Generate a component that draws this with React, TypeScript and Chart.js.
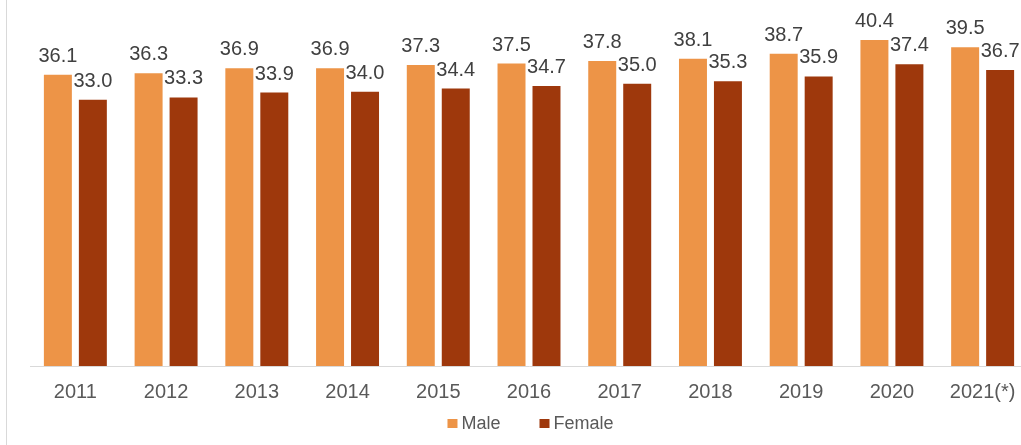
import React, { useEffect, useRef } from "react";
import { Chart, registerables } from "chart.js";

Chart.register(...registerables);

const categories = ["2011", "2012", "2013", "2014", "2015", "2016", "2017", "2018", "2019", "2020", "2021(*)"];
const maleValues = [36.1, 36.3, 36.9, 36.9, 37.3, 37.5, 37.8, 38.1, 38.7, 40.4, 39.5];
const femaleValues = [33.0, 33.3, 33.9, 34.0, 34.4, 34.7, 35.0, 35.3, 35.9, 37.4, 36.7];
const seriesNames = ["Male", "Female"];
const seriesColors = ["#ED9447", "#9E380C"];

const FONT = "'Liberation Sans', Arial, sans-serif";

const valueLabels = {
  id: "valueLabels",
  afterDatasetsDraw(chart: any) {
    const ctx = chart.ctx;
    ctx.save();
    ctx.font = `20px ${FONT}`;
    ctx.fillStyle = "#404040";
    ctx.textAlign = "center";
    ctx.textBaseline = "alphabetic";
    chart.data.datasets.forEach((ds: any, di: number) => {
      const meta = chart.getDatasetMeta(di);
      meta.data.forEach((el: any, i: number) => {
        const v = ds.data[i];
        ctx.fillText(Number(v).toFixed(1), el.x, el.y - 13);
      });
    });
    ctx.restore();
  },
};

const bottomLegend = {
  id: "bottomLegend",
  afterDraw(chart: any) {
    const ctx = chart.ctx;
    ctx.save();
    ctx.font = `18px ${FONT}`;
    ctx.textBaseline = "middle";
    ctx.textAlign = "left";
    const box = 10;
    const gapText = 4;
    const gapItem = 39;
    const items = chart.data.datasets.map((ds: any) => ({
      text: ds.label,
      color: ds.backgroundColor,
      w: box + gapText + ctx.measureText(ds.label).width,
    }));
    const total = items.reduce((s: number, it: any) => s + it.w, 0) + gapItem * (items.length - 1);
    const cx = (chart.chartArea.left + chart.chartArea.right) / 2 + 1.5;
    const cy = 424;
    let x = cx - total / 2;
    items.forEach((it: any) => {
      ctx.fillStyle = it.color;
      ctx.fillRect(x, cy - 5, box, box - 1);
      ctx.fillStyle = "#595959";
      ctx.fillText(it.text, x + box + gapText, cy);
      x += it.w + gapItem;
    });
    ctx.restore();
  },
};

export default function App() {
  const ref = useRef<HTMLCanvasElement>(null);
  useEffect(() => {
    document.body.style.margin = "0";
    const chart = new Chart(ref.current!, {
      type: "bar",
      data: {
        labels: categories,
        datasets: [
          { label: seriesNames[0], data: maleValues, backgroundColor: seriesColors[0] },
          { label: seriesNames[1], data: femaleValues, backgroundColor: seriesColors[1] },
        ],
      },
      options: {
        responsive: false,
        animation: false,
        devicePixelRatio: 1,
        datasets: { bar: { categoryPercentage: 0.771, barPercentage: 0.8 } },
        layout: { padding: { left: 30, right: 12, top: 3, bottom: 27 } },
        scales: {
          x: {
            grid: { display: false, drawTicks: false },
            border: { display: true, color: "#D9D9D9", width: 1 },
            ticks: { color: "#595959", font: { family: FONT, size: 20 }, padding: 14 },
          },
          y: { display: false, min: 0, max: 45 },
        },
        plugins: {
          legend: { display: false },
          tooltip: { enabled: false },
        },
      },
      plugins: [valueLabels, bottomLegend],
    });
    return () => chart.destroy();
  }, []);
  return (
    <div style={{ position: "relative", width: 1021, height: 445, overflow: "hidden", background: "#fff" }}>
      <div style={{ position: "absolute", left: 6, top: 0, width: 1, height: 445, background: "#D9D9D9" }} />
      <canvas ref={ref} width={1040} height={445} style={{ display: "block", width: 1040, height: 445 }} />
    </div>
  );
}
